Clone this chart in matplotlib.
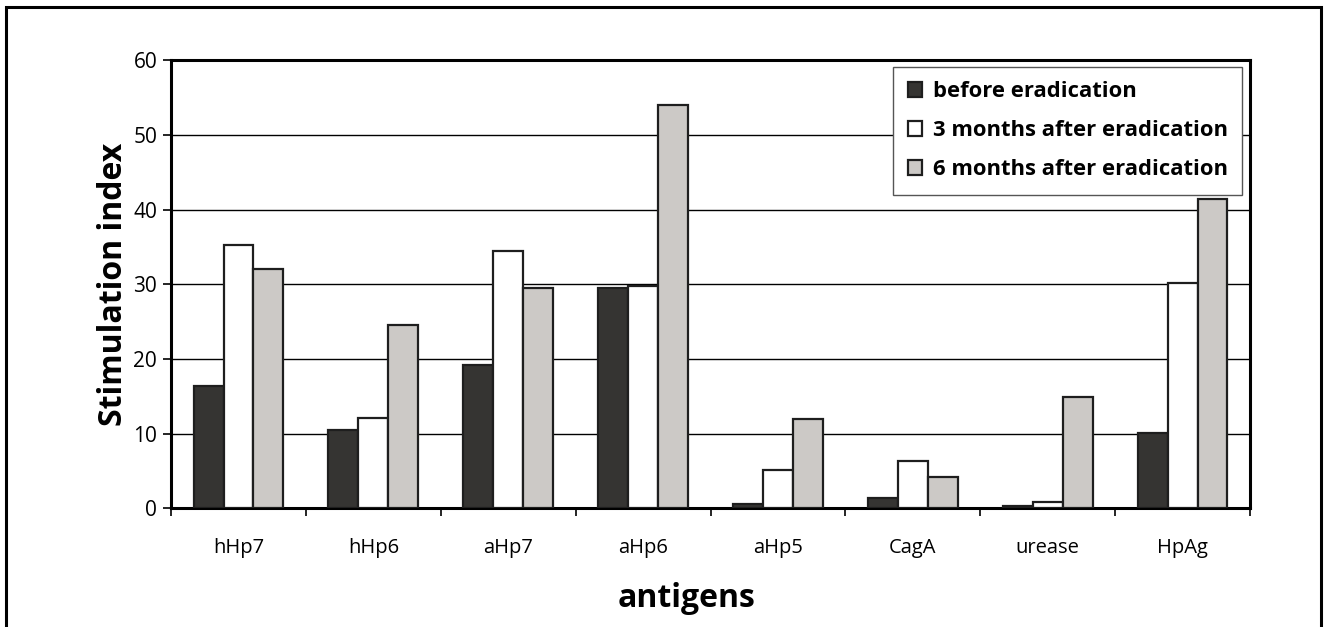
import numpy as np
import matplotlib.pyplot as plt
from matplotlib.patches import Rectangle

antigens = ['hHp7', 'hHp6', 'aHp7', 'aHp6', 'aHp5', 'CagA', 'urease', 'HpAg']
before = [16.4, 10.5, 19.2, 29.5, 0.65, 1.35, 0.4, 10.1]
after3 = [35.2, 12.1, 34.5, 29.8, 5.1, 6.35, 0.9, 30.2]
after6 = [32.1, 24.6, 29.5, 54.0, 12.0, 4.2, 14.9, 41.4]
series_names = ['before eradication', '3 months after eradication', '6 months after eradication']
yticks = [0, 10, 20, 30, 40, 50, 60]

plt.rcParams['font.family'] = ['Open Sans', 'DejaVu Sans']

fig = plt.figure(figsize=(13.26, 6.27), dpi=100)
ax = fig.add_axes([0.129, 0.189, 0.8137, 0.7153])

# outer frame round the whole chart
fig.patches.append(Rectangle((6 / 1326, -0.02), 1315 / 1326, 1 - 7 / 627 + 0.02,
                             transform=fig.transFigure, fill=False,
                             edgecolor='black', linewidth=2.2))

x = np.arange(len(antigens))
w = 0.222
colors = ['#353432', '#ffffff', '#ccc9c6']
for k, (vals, c, name) in enumerate(zip([before, after3, after6], colors, series_names)):
    ax.bar(x + (k - 1) * w, vals, w, color=c, edgecolor='#1e1e1e', linewidth=1.6,
           label=name, zorder=3)

ax.set_xlim(-0.5, len(antigens) - 0.5)
ax.set_ylim(0, 60)
ax.set_yticks(yticks)
ax.yaxis.grid(True, color='black', linewidth=1.0, zorder=0)
ax.set_axisbelow(True)

ax.set_xticks(x)
ax.set_xticklabels(antigens, fontsize=14.5)
ax.set_xticks(np.arange(-0.5, len(antigens)), minor=True)
ax.tick_params(axis='x', which='major', length=0, pad=21)
ax.tick_params(axis='x', which='minor', length=6, width=1.2, direction='out')
ax.tick_params(axis='y', length=6, width=1.2, labelsize=15, pad=4)

for s in ax.spines.values():
    s.set_linewidth(2.2)
    s.set_color('black')

ax.set_ylabel('Stimulation index', fontsize=23, fontweight='bold')
ax.yaxis.set_label_coords(-0.038, 0.5)
ax.set_xlabel('antigens', fontsize=23, fontweight='bold')
ax.xaxis.set_label_coords(0.478, -0.165)

leg = ax.legend(loc='upper right', bbox_to_anchor=(0.9926, 0.984), borderaxespad=0,
                fancybox=False, framealpha=1, edgecolor='#555555',
                prop={'weight': 'bold', 'size': 15.8}, handlelength=0.65,
                handleheight=0.65, handletextpad=0.5, labelspacing=0.82,
                borderpad=0.65)
leg.get_frame().set_linewidth(1.0)

fig.savefig('out.png', dpi=100)
